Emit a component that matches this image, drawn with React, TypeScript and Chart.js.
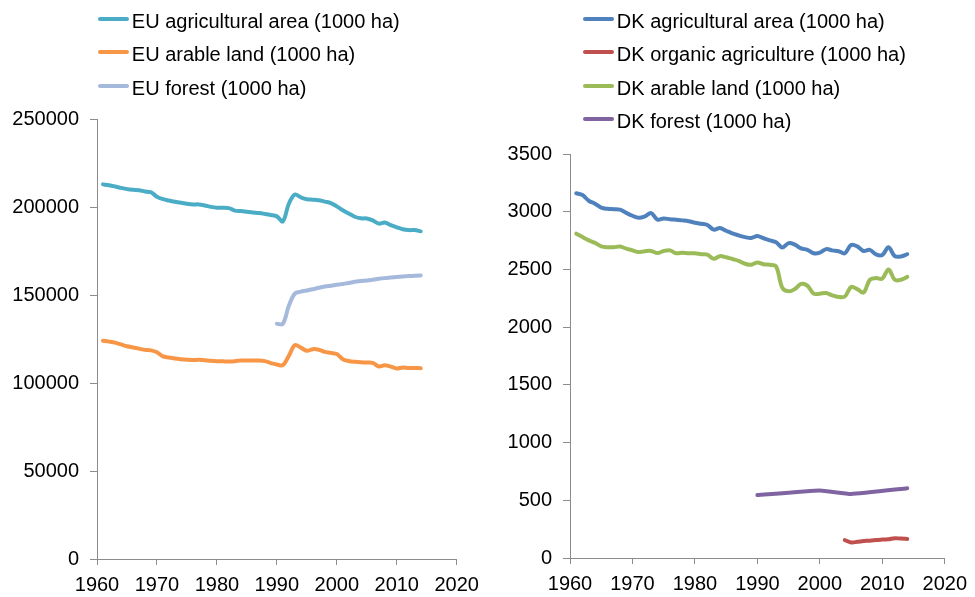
import React, { useEffect, useRef } from "react";
import { Chart, registerables } from "chart.js";

Chart.register(...registerables);

// ---------- DATA ----------
const euYears = [
  1961, 1962, 1963, 1964, 1965, 1966, 1967, 1968, 1969, 1970,
  1971, 1972, 1973, 1974, 1975, 1976, 1977, 1978, 1979, 1980,
  1981, 1982, 1983, 1984, 1985, 1986, 1987, 1988, 1989, 1990,
  1991, 1992, 1993, 1994, 1995, 1996, 1997, 1998, 1999, 2000,
  2001, 2002, 2003, 2004, 2005, 2006, 2007, 2008, 2009, 2010,
  2011, 2012, 2013, 2014,
];

const euAgri = [
  213000, 212500, 211800, 211000, 210300, 209900, 209700, 209000, 208500, 206000,
  204600, 203800, 203100, 202500, 202000, 201600, 201600, 201000, 200200, 199700,
  199700, 199500, 198100, 197800, 197400, 197000, 196700, 196200, 195600, 194800,
  192000, 202000, 207200, 205600, 204500, 204300, 204000, 203200, 202400, 200500,
  198300, 196400, 194600, 193700, 193600, 192500, 190700, 191300, 189800, 188600,
  187500, 187000, 187000, 186300,
];

const euArable = [
  124100, 123600, 123000, 122000, 121000, 120300, 119600, 118900, 118600, 117600,
  115200, 114600, 114000, 113600, 113300, 113100, 113300, 113000, 112700, 112500,
  112400, 112300, 112500, 112900, 112900, 112900, 112900, 112500, 111400, 110600,
  110200, 115500, 121600, 120200, 118400, 119300, 119000, 117800, 117200, 116500,
  113600, 112600, 112100, 111800, 111700, 111500, 109500, 110200, 109400, 108300,
  108900, 108600, 108600, 108500,
];

const euForestYears = [
  1990, 1991, 1992, 1993, 1994, 1995, 1996, 1997, 1998, 1999,
  2000, 2001, 2002, 2003, 2004, 2005, 2006, 2007, 2008, 2009,
  2010, 2011, 2012, 2013, 2014,
];
const euForest = [
  133800, 133700, 144000, 150900, 152000, 152700, 153400, 154200, 154900, 155400,
  155900, 156400, 156900, 157600, 158000, 158400, 158800, 159300, 159700, 160000,
  160300, 160600, 160900, 161000, 161200,
];

const dkYears = euYears;

const dkAgri = [
  3160, 3145, 3095, 3070, 3035, 3025, 3022, 3018, 2990, 2965,
  2948, 2960, 2988, 2932, 2942, 2935, 2930, 2925, 2918, 2905,
  2895, 2885, 2845, 2858, 2835, 2812, 2795, 2780, 2772, 2789,
  2770, 2752, 2735, 2690, 2728, 2715, 2682, 2670, 2640, 2645,
  2676, 2665, 2658, 2640, 2712, 2700, 2660, 2670, 2630, 2625,
  2692, 2615, 2612, 2632,
];

const dkArable = [
  2810, 2780, 2752, 2730, 2700, 2692, 2692, 2698, 2680, 2665,
  2650, 2658, 2660, 2642, 2660, 2665, 2640, 2645, 2640, 2640,
  2632, 2628, 2592, 2615, 2605, 2590, 2575, 2550, 2540, 2561,
  2545, 2540, 2525, 2340, 2310, 2330, 2375, 2360, 2290, 2290,
  2295, 2275, 2262, 2265, 2348, 2330, 2300, 2410, 2425, 2420,
  2500, 2410, 2410, 2435,
];

const dkOrganicYears = [2004, 2005, 2006, 2007, 2008, 2009, 2010, 2011, 2012, 2013, 2014];
const dkOrganic = [155, 135, 140, 148, 150, 155, 160, 162, 172, 168, 165];

const dkForestYears = [1990, 2000, 2005, 2014];
const dkForest = [545, 585, 555, 605];

const xTicksMin = 1960;
const xTicksMax = 2020;

// ---------- STYLES ----------
const FONT = "'Liberation Sans', Arial, sans-serif";
const AXIS = "#8c8c8c";

type Series = { label: string; color: string; years: number[]; values: number[]; tension?: number };

const euSeries: Series[] = [
  { label: "EU agricultural area (1000 ha)", color: "#4BACC6", years: euYears, values: euAgri },
  { label: "EU arable land (1000 ha)", color: "#F79646", years: euYears, values: euArable },
  { label: "EU forest (1000 ha)", color: "#A5B9DC", years: euForestYears, values: euForest },
];

const dkSeries: Series[] = [
  { label: "DK agricultural area (1000 ha)", color: "#4F81BD", years: dkYears, values: dkAgri },
  { label: "DK organic agriculture (1000 ha)", color: "#C0504D", years: dkOrganicYears, values: dkOrganic },
  { label: "DK arable land (1000 ha)", color: "#9BBB59", years: dkYears, values: dkArable },
  { label: "DK forest (1000 ha)", color: "#8064A2", years: dkForestYears, values: dkForest, tension: 0.12 },
];

type Cfg = {
  series: Series[];
  width: number;
  height: number;
  yMax: number;
  yStep: number;
  yAxisWidth: number;
  padTop: number;
  padRight: number;
  xAxisHeight: number;
};

function LineChart({ cfg }: { cfg: Cfg }) {
  const ref = useRef<HTMLCanvasElement | null>(null);
  useEffect(() => {
    if (!ref.current) return;
    const chart = new Chart(ref.current, {
      type: "line",
      data: {
        datasets: cfg.series.map((s) => ({
          label: s.label,
          data: s.years.map((x, i) => ({ x, y: s.values[i] })),
          borderColor: s.color,
          backgroundColor: s.color,
          borderWidth: 4,
          pointRadius: 0,
          pointHoverRadius: 0,
          tension: s.tension ?? 0.35,
          borderCapStyle: "round",
          borderJoinStyle: "round",
          fill: false,
        })),
      },
      options: {
        animation: false,
        responsive: false,
        maintainAspectRatio: false,
        events: [],
        layout: { padding: { left: 0, top: cfg.padTop, right: cfg.padRight, bottom: 0 } },
        plugins: { legend: { display: false }, tooltip: { enabled: false } },
        scales: {
          x: {
            type: "linear",
            min: xTicksMin,
            max: xTicksMax,
            ticks: {
              stepSize: 10,
              color: "#000",
              font: { family: FONT, size: 20 },
              padding: 8,
              maxRotation: 0,
              callback: (v: any) => String(v),
            },
            grid: { drawOnChartArea: false, drawTicks: true, tickLength: 6, color: AXIS, lineWidth: 1 },
            border: { display: true, color: AXIS, width: 1 },
            afterFit: (scale: any) => {
              scale.height = cfg.xAxisHeight;
            },
          },
          y: {
            type: "linear",
            min: 0,
            max: cfg.yMax,
            ticks: {
              stepSize: cfg.yStep,
              color: "#000",
              font: { family: FONT, size: 20 },
              padding: 11,
              callback: (v: any) => String(v),
            },
            grid: { drawOnChartArea: false, drawTicks: true, tickLength: 7, color: AXIS, lineWidth: 1 },
            border: { display: true, color: AXIS, width: 1 },
            afterFit: (scale: any) => {
              scale.width = cfg.yAxisWidth;
            },
          },
        },
      } as any,
    });
    return () => chart.destroy();
  }, [cfg]);
  return <canvas ref={ref} width={cfg.width} height={cfg.height} style={{ display: "block" }} />;
}

function Legend({ series, left }: { series: Series[]; left: number }) {
  return (
    <>
      {series.map((s, i) => (
        <div
          key={s.label}
          style={{ position: "absolute", left, top: 10.5 + i * 33.5, height: 20, whiteSpace: "nowrap" }}
        >
          <div
            style={{
              position: "absolute",
              left: 0,
              top: 6,
              width: 31,
              height: 4,
              borderRadius: 2,
              background: s.color,
            }}
          />
          <span
            style={{
              position: "absolute",
              left: 33.5,
              top: 0,
              fontFamily: FONT,
              fontSize: 20,
              lineHeight: "20px",
              color: "#000",
            }}
          >
            {s.label}
          </span>
        </div>
      ))}
    </>
  );
}

const leftCfg: Cfg = {
  series: euSeries,
  width: 487,
  height: 597,
  yMax: 250000,
  yStep: 50000,
  yAxisWidth: 97,
  padTop: 119.3,
  padRight: 30.3,
  xAxisHeight: 38,
};

const rightCfg: Cfg = {
  series: dkSeries,
  width: 488,
  height: 597,
  yMax: 3500,
  yStep: 500,
  yAxisWidth: 83,
  padTop: 154,
  padRight: 24.5,
  xAxisHeight: 39,
};

export default function App() {
  return (
    <div
      style={{
        position: "absolute",
        left: 0,
        top: 0,
        width: 975,
        height: 597,
        background: "#fff",
        overflow: "hidden",
      }}
    >
      <div style={{ position: "absolute", left: 0, top: 0 }}>
        <LineChart cfg={leftCfg} />
      </div>
      <div style={{ position: "absolute", left: 487, top: 0 }}>
        <LineChart cfg={rightCfg} />
      </div>
      <Legend series={euSeries} left={98.3} />
      <Legend series={dkSeries} left={583.3} />
    </div>
  );
}
